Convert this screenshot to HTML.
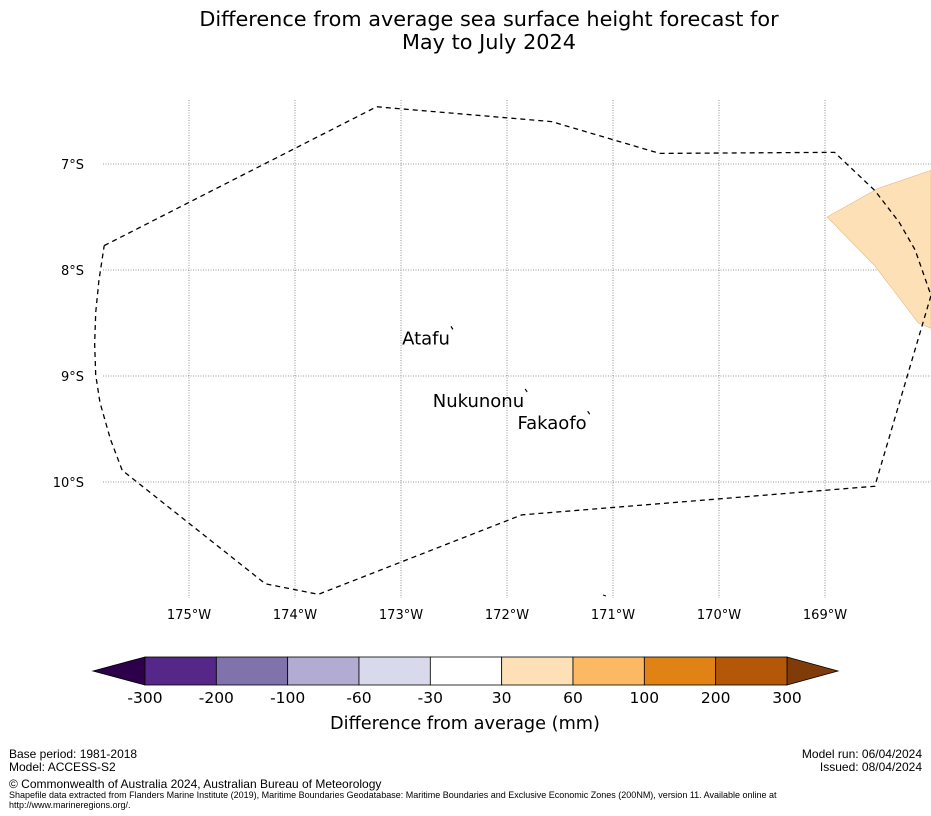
<!DOCTYPE html>
<html><head><meta charset="utf-8"><style>
body{margin:0;background:#fff;width:931px;height:816px;overflow:hidden;font-family:"DejaVu Sans","Liberation Sans",sans-serif}
.ft{position:absolute;font-family:"Liberation Sans Narrow","Liberation Sans",sans-serif;color:#000}
</style></head><body>
<div style="position:absolute;left:0;top:0;width:931px;height:816px">
<svg id="chart" width="931" height="816" style="position:absolute;left:0;top:0">
<text x="489" y="26" font-size="20.8" text-anchor="middle">Difference from average sea surface height forecast for</text>
<text x="489" y="49" font-size="20.8" text-anchor="middle">May to July 2024</text>
<g id="grid"></g><g id="shapes"></g><g id="labels"></g><g id="cbar"></g>
<text x="465" y="729" font-size="17.7" text-anchor="middle">Difference from average (mm)</text>
</svg>
<div class="ft" style="left:9px;top:748px;font-size:12px;line-height:13px">Base period: 1981-2018<br>Model: ACCESS-S2</div>
<div class="ft" style="right:9px;top:748px;font-size:12px;line-height:13px;text-align:right">Model run: 06/04/2024<br>Issued: 08/04/2024</div>
<div class="ft" style="left:9px;top:777px;font-size:12px">© Commonwealth of Australia 2024, Australian Bureau of Meteorology</div>
<div class="ft" style="left:9px;top:790px;font-size:9px;line-height:10px">Shapefile data extracted from Flanders Marine Institute (2019), Maritime Boundaries Geodatabase: Maritime Boundaries and Exclusive Economic Zones (200NM), version 11. Available online at<br>http://www.marineregions.org/.</div>
</div>
<script>
const lonTicks=[-175,-174,-173,-172,-171,-170,-169];
const latTicks=[-7,-8,-9,-10];
const eezLon=[-175.80,-173.23,-171.58,-170.56,-168.91,-168.53,-168.30,-168.15,-168.00,-168.53,-171.86,-173.78,-174.28,-175.63,-175.74,-175.84,-175.88,-175.89,-175.88,-175.85,-175.80];
const eezLat=[-7.77,-6.46,-6.60,-6.90,-6.89,-7.25,-7.55,-7.81,-8.24,-10.04,-10.31,-11.06,-10.96,-9.89,-9.60,-9.25,-8.99,-8.70,-8.40,-8.10,-7.77];
const anomLon=[-168.98,-168.50,-168.00,-168.00,-168.12,-168.53,-168.98];
const anomLat=[-7.50,-7.23,-7.06,-8.55,-8.50,-7.96,-7.50];
const islandNames=["Atafu","Nukunonu","Fakaofo"];
const islandLon=[-172.51,-171.81,-171.22];
const islandLat=[-8.56,-9.15,-9.36];
const cbLevels=[-300,-200,-100,-60,-30,30,60,100,200,300];
const cbColors=["#542788","#8073ac","#b2abd2","#d8daeb","#ffffff","#fee0b6","#fdb863","#e08214","#b35806"];
const cbUnder="#2d004b", cbOver="#7f3b08";
const NS="http://www.w3.org/2000/svg";
const X0=93,X1=931,Y0=100,Y1=598;
function x(lon){return 189+(lon+175)*106;}
function y(lat){return 164+(-7-lat)*106;}
function mk(tag,at,parent){const e=document.createElementNS(NS,tag);for(const k in at)e.setAttribute(k,at[k]);parent.appendChild(e);return e;}
const grid=document.getElementById('grid'),shapes=document.getElementById('shapes'),labels=document.getElementById('labels'),cbar=document.getElementById('cbar');
lonTicks.forEach(v=>{
 const l=mk('line',{x1:x(v),x2:x(v),y1:Y0,y2:Y1,stroke:'#777','stroke-width':0.8,'stroke-dasharray':'1,1.5'},grid);
 
 
 const t=mk('text',{x:x(v),y:619,'font-size':13,'text-anchor':'middle'},grid);
 t.textContent=Math.abs(v)+'°W';
 
 
});
latTicks.forEach(v=>{
 const l=mk('line',{x1:X0+10,x2:X1,y1:y(v),y2:y(v),stroke:'#777','stroke-width':0.8,'stroke-dasharray':'1,1.5'},grid);
 
 
 const t=mk('text',{x:84,y:y(v)+5,'font-size':13,'text-anchor':'end'},grid);
 t.textContent=Math.abs(v)+'°S';
 
 
});
const ap=mk('polygon',{points:anomLon.map((v,i)=>x(v)+','+y(anomLat[i])).join(' '),fill:'#fee0b6',stroke:'#e0b880','stroke-width':0.6},shapes);


const ez=mk('polyline',{points:eezLon.map((v,i)=>Math.min(931,x(v))+','+y(eezLat[i])).join(' '),fill:'none',stroke:'#000','stroke-width':1.3,'stroke-dasharray':'5,4'},shapes);


islandNames.forEach((n,i)=>{
 const px=x(islandLon[i]),py=y(islandLat[i]);
 const m=mk('line',{x1:px-2,y1:py-3,x2:px,y2:py,stroke:'#000','stroke-width':1.2},labels);
 
 
 const t=mk('text',{x:px-3,y:py+15,'font-size':18,'text-anchor':'end'},labels);
 t.textContent=n;
 
 
});
const mk2=mk('line',{x1:603,y1:595,x2:606,y2:596,stroke:'#000','stroke-width':1},labels);


const CB0=145,CB1=787,CT=657,CBt=685,n=cbColors.length,w=(CB1-CB0)/n;
function cx(i){return CB0+i*w;}
const tu=mk('polygon',{points:`93,671 ${CB0},${CT} ${CB0},${CBt}`,fill:cbUnder,stroke:'#000','stroke-width':0.8},cbar);


const to=mk('polygon',{points:`838,671 ${CB1},${CT} ${CB1},${CBt}`,fill:cbOver,stroke:'#000','stroke-width':0.8},cbar);


cbColors.forEach((c,i)=>{
 const r=mk('rect',{x:cx(i),y:CT,width:w,height:CBt-CT,fill:c,stroke:'#000','stroke-width':0.8},cbar);
 
 
});
cbLevels.forEach((v,i)=>{
 const t=mk('text',{x:cx(i),y:703,'font-size':15.5,'text-anchor':'middle'},cbar);
 t.textContent=v;
 
 
});
</script>
</body></html>
